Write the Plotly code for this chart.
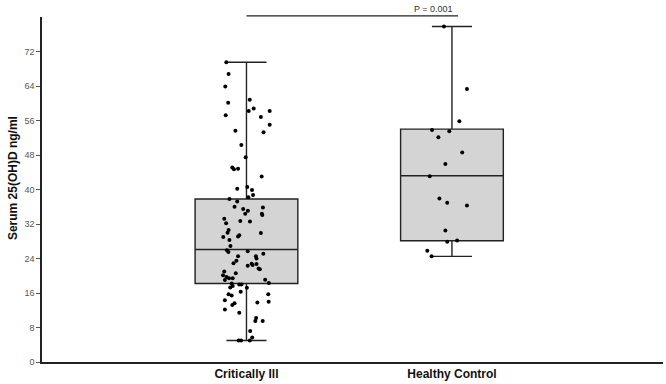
import plotly.graph_objects as go

# ---- data ----
groups = ["Critically Ill", "Healthy Control"]

# box statistics (q1, median, q3, lower whisker, upper whisker)
q1 = [18.2, 28.1]
median = [26.1, 43.2]
q3 = [37.8, 54.0]
lower = [5.0, 24.5]
upper = [69.5, 77.8]

# individual observations
ill_values = [69.5, 66.8, 63.9, 60.1, 60.8, 58.2, 58.8, 58.2, 57.2, 56.8, 55.0, 53.6, 53.3,
              50.3, 47.5, 45.1, 44.7, 44.8, 43.0, 40.2, 40.6, 39.9, 38.7, 38.2, 37.8, 37.2,
              36.0, 35.5, 35.1, 34.4, 35.8, 34.4, 34.1, 33.2, 32.2, 32.7, 32.6, 30.6, 30.0,
              29.4, 29.1, 29.0, 29.9, 28.3, 26.9, 25.9, 25.5, 25.7, 25.1, 24.5, 24.5, 24.0,
              23.5, 22.8, 22.5, 22.3, 22.7, 21.7, 21.5, 22.9, 21.0, 20.6, 20.1, 19.7, 19.0,
              19.4, 19.4, 19.1, 18.3, 18.2, 18.0, 18.0, 17.3, 17.6, 17.2, 16.3, 15.7, 15.4,
              15.7, 14.3, 14.0, 13.2, 13.6, 13.8, 12.2, 11.4, 10.2, 9.5, 9.5, 7.2, 5.7, 5.0,
              5.0, 5.0]
ill_jitter = [-0.098, -0.087, -0.103, -0.089, 0.016, 0.011, 0.035, 0.113, -0.101, 0.070, 0.113,
              -0.054, 0.083, -0.025, -0.004, -0.069, -0.061, -0.041, 0.074, -0.045, 0.004,
              0.027, 0.032, 0.009, -0.083, -0.045, -0.058, -0.016, 0.007, -0.006, 0.080, 0.075,
              0.077, -0.108, -0.099, -0.030, 0.017, -0.087, -0.092, -0.035, -0.041, -0.113,
              0.070, -0.083, -0.078, -0.095, -0.088, 0.006, 0.082, -0.041, 0.046, 0.049,
              -0.049, 0.025, 0.030, 0.006, 0.049, 0.059, 0.065, -0.063, -0.108, -0.052,
              -0.114, -0.097, -0.105, -0.085, -0.067, 0.091, 0.109, -0.072, -0.035, -0.024,
              -0.079, -0.067, 0.002, -0.028, -0.087, -0.072, 0.106, -0.105, 0.108, -0.069,
              -0.058, 0.053, -0.105, -0.035, 0.047, 0.043, 0.079, 0.018, 0.028, 0.016,
              -0.038, -0.026]

healthy_values = [77.8, 63.3, 55.8, 53.8, 53.5, 52.1, 48.6, 45.9, 43.1, 37.9, 36.9, 36.3,
                  30.5, 27.9, 28.2, 25.8, 24.5]
healthy_jitter = [-0.039, 0.073, 0.036, -0.097, -0.013, -0.066, 0.050, -0.032, -0.108,
                  -0.061, -0.023, 0.073, -0.032, -0.023, 0.025, -0.120, -0.099]

y_ticks = [0, 8, 16, 24, 32, 40, 48, 56, 64, 72]
p_label = "P = 0.001"
y_title = "Serum 25(OH)D ng/ml"

fig = go.Figure()

for i, g in enumerate(groups):
    fig.add_trace(go.Box(
        x=[i], q1=[q1[i]], median=[median[i]], q3=[q3[i]],
        lowerfence=[lower[i]], upperfence=[upper[i]],
        width=0.5, whiskerwidth=0.39,
        fillcolor="#d4d4d4", line=dict(color="#222222", width=1.4),
        boxpoints=False, showlegend=False, hoverinfo="skip",
    ))

fig.add_trace(go.Scatter(
    x=[0 + j for j in ill_jitter], y=ill_values, mode="markers",
    marker=dict(color="black", size=4), showlegend=False, cliponaxis=False,
))
fig.add_trace(go.Scatter(
    x=[1 + j for j in healthy_jitter], y=healthy_values, mode="markers",
    marker=dict(color="black", size=4), showlegend=False, cliponaxis=False,
))

fig.update_layout(
    width=666, height=384,
    margin=dict(l=42, r=3, t=17, b=22, autoexpand=False),
    paper_bgcolor="white", plot_bgcolor="white",
    font=dict(family="Liberation Sans, Arial, sans-serif"),
    xaxis=dict(
        range=[-0.995, 2.027], tickvals=[0, 1],
        ticktext=["<b>%s</b>" % g for g in groups],
        tickfont=dict(size=12, color="#111111"),
        showgrid=False, zeroline=False, showline=True, automargin=False,
        linecolor="#222222", linewidth=1.5, ticks="", ticklen=0,
    ),
    yaxis=dict(
        range=[0, 80], tickvals=y_ticks, ticktext=[str(t) for t in y_ticks],
        tickfont=dict(size=9, color="#555555"), automargin=False,
        showgrid=False, zeroline=False, showline=True,
        linecolor="#222222", linewidth=1.5, ticks="outside", ticklen=4,
        tickcolor="#555555",
    ),
    shapes=[dict(type="line", xref="x", yref="paper", x0=0.0, x1=1.03,
                 y0=1.003, y1=1.003, line=dict(color="#222222", width=1.2))],
    annotations=[
        dict(text=p_label, xref="x", yref="paper", x=0.91, y=1.003, yanchor="bottom",
             xanchor="center", showarrow=False, font=dict(size=9, color="#333333")),
        dict(text="<b>%s</b>" % y_title, xref="paper", yref="paper", x=-0.0467, y=0.533,
             xanchor="center", yanchor="middle", textangle=-90, showarrow=False,
             font=dict(size=12, color="#111111")),
    ],
)

# remove the browser's default page margin so the figure fills the window
fig.write_html("out.html", config={"displayModeBar": False},
               post_script="document.body.style.margin='0';")
